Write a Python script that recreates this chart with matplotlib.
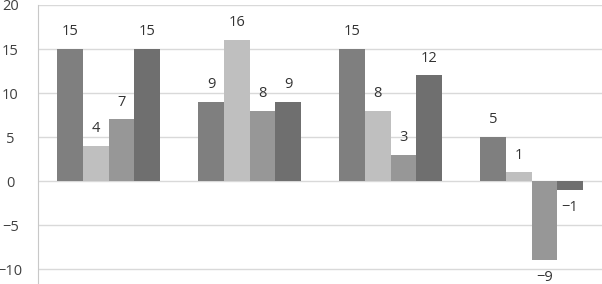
import numpy as np
import matplotlib
matplotlib.use('Agg')
import matplotlib.pyplot as plt

categories = ['A', 'B', 'C', 'D']
series_1 = [15, 9, 15, 5]
series_2 = [4, 16, 8, 1]
series_3 = [7, 8, 3, -9]
series_4 = [15, 9, 12, -1]
y_ticks = [-10, -5, 0, 5, 10, 15, 20]

colors = ['#7f7f7f', '#bfbfbf', '#979797', '#6f6f6f']

plt.rcParams['font.family'] = ['Open Sans', 'DejaVu Sans']

fig = plt.figure(figsize=(6.02, 2.84), dpi=100)
ax = fig.add_axes([38 / 602, 0, 1 - 38 / 602, 1 - 5 / 284])

x = np.arange(len(categories))
width = 0.182
all_series = [series_1, series_2, series_3, series_4]
for i, vals in enumerate(all_series):
    pos = x + (i - 1.5) * width
    ax.bar(pos, vals, width=width, color=colors[i], zorder=2)
    for px, v in zip(pos, vals):
        off = 7 if v >= 0 else -7
        va = 'bottom' if v >= 0 else 'top'
        ax.annotate(str(v).replace('-', '\u2212'), (px, v), xytext=(0, off),
                    textcoords='offset points', ha='center', va=va,
                    fontsize=10.5, color='#333333')

ax.set_xlim(-0.5, 3.5)
ax.set_ylim(-11.7, 20)
ax.set_yticks(y_ticks)
ax.set_yticklabels([str(t).replace('-', '\u2212') for t in y_ticks])
ax.set_xticks([])
ax.tick_params(axis='y', length=0, pad=20, labelsize=10.5, labelcolor='#404040')
for lab in ax.get_yticklabels():
    lab.set_horizontalalignment('center')
ax.grid(axis='y', color='#d9d9d9', linewidth=1, zorder=0)
for s in ['top', 'right', 'bottom']:
    ax.spines[s].set_visible(False)
ax.spines['left'].set_color('#c8c8c8')

fig.savefig('out.png', dpi=100)
